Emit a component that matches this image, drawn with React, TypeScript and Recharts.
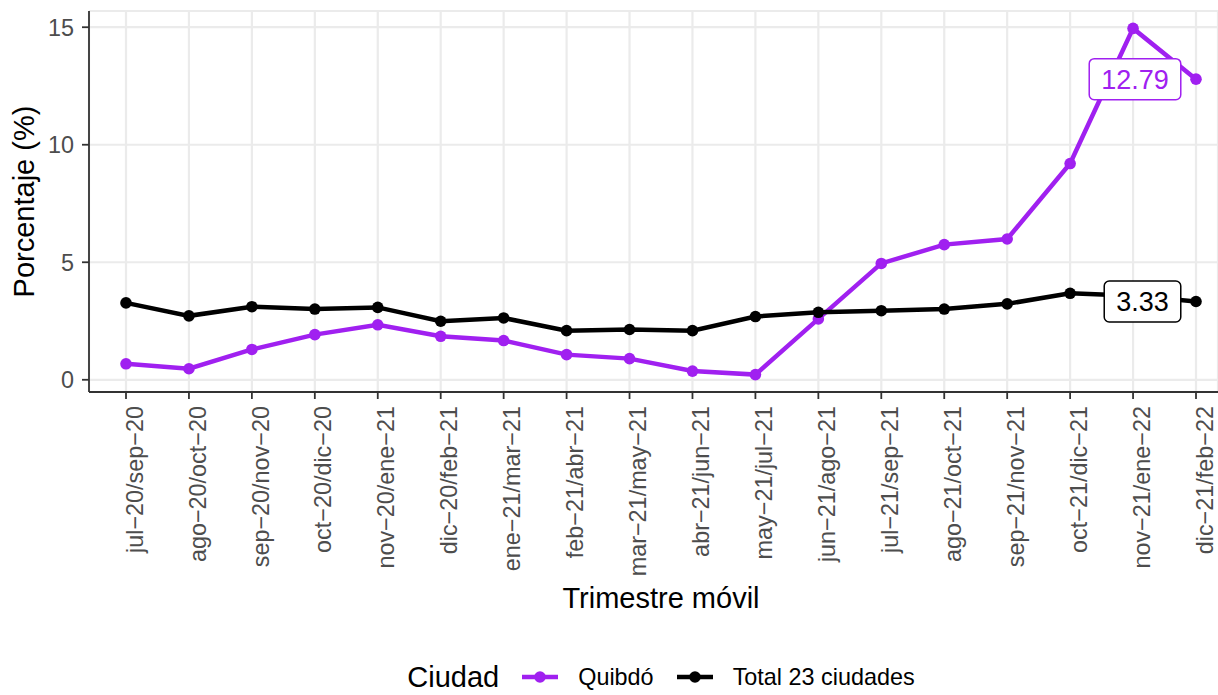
import React from 'react';
import { LineChart, Line, XAxis, YAxis, CartesianGrid, Legend } from 'recharts';

const categories = [
  'jul−20/sep−20', 'ago−20/oct−20', 'sep−20/nov−20', 'oct−20/dic−20', 'nov−20/ene−21',
  'dic−20/feb−21', 'ene−21/mar−21', 'feb−21/abr−21', 'mar−21/may−21', 'abr−21/jun−21',
  'may−21/jul−21', 'jun−21/ago−21', 'jul−21/sep−21', 'ago−21/oct−21', 'sep−21/nov−21',
  'oct−21/dic−21', 'nov−21/ene−22', 'dic−21/feb−22',
];
const quibdo = [0.68, 0.47, 1.29, 1.92, 2.34, 1.85, 1.67, 1.07, 0.90, 0.37, 0.22, 2.59, 4.95, 5.75, 5.99, 9.20, 14.95, 12.79];
const total23 = [3.27, 2.72, 3.11, 3.01, 3.08, 2.49, 2.63, 2.09, 2.14, 2.09, 2.69, 2.87, 2.94, 3.01, 3.23, 3.68, 3.58, 3.33];
const yTicks = [0, 5, 10, 15];
const yMinorTicks = [2.5, 7.5, 12.5];
const yDomain = [-0.52, 15.69];

const seriesNames = { q: 'Quibdó', t: 'Total 23 ciudades' };
const legendTitle = 'Ciudad';
const xTitle = 'Trimestre móvil';
const yTitle = 'Porcentaje (%)';

const PURPLE = '#A020F0';
const BLACK = '#000000';
const FONT = '"Liberation Sans", Arial, Helvetica, sans-serif';
const AXIS = '#333333';
const TICKTXT = '#4D4D4D';
const GRID = '#EBEBEB';
const TXT = 23.4;
const TITLE = 29;

const data = categories.map((c, i) => ({ cat: c, q: quibdo[i], t: total23[i] }));
const lastIndex = data.length - 1;

const XTick = (props: any) => {
  const { x, y, payload } = props;
  return (
    <g transform={`translate(${x},${y})`}>
      <text
        transform="rotate(-90)"
        x={-5}
        y={0}
        dy="0.71em"
        textAnchor="end"
        fill={TICKTXT}
        fontSize={TXT}
        fontFamily={FONT}
      >
        {payload.value}
      </text>
    </g>
  );
};

const charW = (s: string, fs: number) => {
  let w = 0;
  for (const ch of s) w += ch === '.' ? 0.278 : 0.556;
  return w * fs;
};

const makeDot = (color: string, dx: number) => (props: any) => {
  const { cx, cy, index, value } = props;
  if (cx == null || cy == null) return <g key={`d${index}`} />;
  const dot = <circle cx={cx} cy={cy} r={5.8} fill={color} />;
  if (index !== lastIndex) return <g key={`d${index}`}>{dot}</g>;
  const v = Array.isArray(value) ? value[1] : value;
  const txt = Number(v).toFixed(2);
  const fs = 27;
  const w = charW(txt, fs) + 24;
  const h = 41;
  const lx = cx + dx;
  const ly = cy;
  return (
    <g key={`d${index}`}>
      {dot}
      <rect x={lx - w / 2} y={ly - h / 2} width={w} height={h} rx={5} ry={5} fill="#ffffff" stroke={color} strokeWidth={1.5} />
      <text x={lx} y={ly} dy="0.36em" textAnchor="middle" fill={color} fontSize={fs} fontFamily={FONT}>
        {txt}
      </text>
    </g>
  );
};

const LegendContent = (props: any) => {
  const { payload } = props;
  const items = payload || [];
  return (
    <div style={{ display: 'flex', alignItems: 'center', justifyContent: 'center', height: 34, fontFamily: FONT, color: '#000' }}>
      <span style={{ fontSize: TITLE, marginRight: 23 }}>{legendTitle}</span>
      {items.map((it: any, i: number) => (
        <span key={i} style={{ display: 'flex', alignItems: 'center', marginRight: i < items.length - 1 ? 23 : 0 }}>
          <svg width={36} height={14} style={{ marginRight: 20 }}>
            <line x1={0} y1={7} x2={36} y2={7} stroke={it.color} strokeWidth={4.5} />
            <circle cx={18} cy={7} r={5.8} fill={it.color} />
          </svg>
          <span style={{ fontSize: TXT }}>{it.value}</span>
        </span>
      ))}
    </div>
  );
};

const XTitle = (props: any) => {
  const { viewBox } = props;
  return (
    <text x={viewBox.x + viewBox.width / 2 + 7.5} y={viewBox.y + 216} textAnchor="middle" fill="#000" fontSize={TITLE} fontFamily={FONT}>
      {xTitle}
    </text>
  );
};

const YTitle = (props: any) => {
  const { viewBox } = props;
  const x = viewBox.x + 34;
  const y = viewBox.y + viewBox.height / 2;
  return (
    <text x={x} y={y} transform={`rotate(-90, ${x}, ${y})`} textAnchor="middle" fill="#000" fontSize={TITLE} fontFamily={FONT}>
      {yTitle}
    </text>
  );
};

export default function App() {
  return (
    <div style={{ position: 'fixed', left: 0, top: 0, width: 1218, height: 695, background: '#fff', overflow: 'hidden' }}>
      <LineChart width={1218} height={695} data={data} margin={{ top: 11, right: 0, left: 0, bottom: 0 }}>
        <CartesianGrid yAxisId="minor" vertical={false} stroke={GRID} strokeWidth={1.1} />
        <CartesianGrid stroke={GRID} strokeWidth={2.2} />
        <XAxis
          dataKey="cat"
          interval={0}
          height={303}
          padding={{ left: 37, right: 22 }}
          tick={<XTick />}
          tickSize={7}
          tickMargin={2}
          tickLine={{ stroke: AXIS, strokeWidth: 1.8 }}
          axisLine={{ stroke: AXIS, strokeWidth: 1.8 }}
          label={<XTitle />}
        />
        <XAxis
          xAxisId="top"
          orientation="top"
          dataKey="cat"
          height={0}
          tick={false}
          tickLine={false}
          axisLine={{ stroke: AXIS, strokeWidth: 1.8 }}
          padding={{ left: 37, right: 22 }}
        />
        <YAxis
          type="number"
          domain={yDomain}
          ticks={yTicks}
          width={89}
          tickSize={7}
          tickMargin={8}
          tick={{ fill: TICKTXT, fontSize: TXT, fontFamily: FONT }}
          tickLine={{ stroke: AXIS, strokeWidth: 1.8 }}
          axisLine={{ stroke: AXIS, strokeWidth: 1.8 }}
          label={<YTitle />}
        />
        <YAxis yAxisId="minor" type="number" domain={yDomain} ticks={yMinorTicks} hide />
        <Legend
          layout="horizontal"
          verticalAlign="middle"
          align="center"
          content={<LegendContent />}
          wrapperStyle={{ position: 'absolute', top: 660, left: 108, width: 1106, height: 34 }}
        />
        <Line
          type="linear"
          dataKey="q"
          name={seriesNames.q}
          stroke={PURPLE}
          strokeWidth={4.5}
          dot={makeDot(PURPLE, -61)}
          activeDot={false}
          isAnimationActive={false}
        />
        <Line
          type="linear"
          dataKey="t"
          name={seriesNames.t}
          stroke={BLACK}
          strokeWidth={4.5}
          dot={makeDot(BLACK, -53.5)}
          activeDot={false}
          isAnimationActive={false}
        />
      </LineChart>
    </div>
  );
}
